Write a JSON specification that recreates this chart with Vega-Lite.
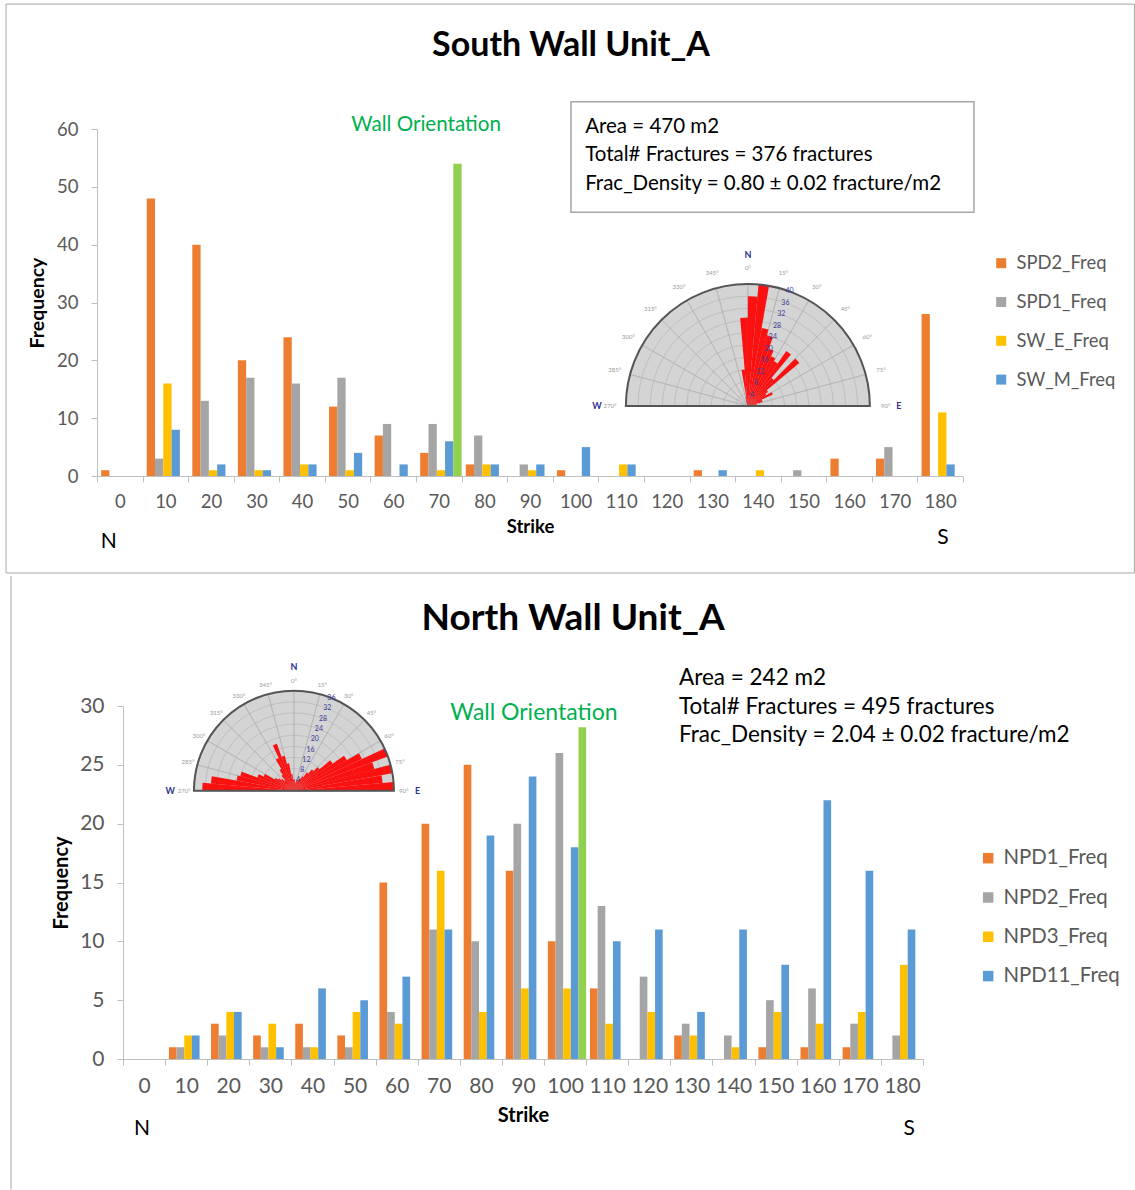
{
  "$schema": "https://vega.github.io/schema/vega-lite/v6.json",
  "background": "white",
  "padding": {"left": 5, "top": 3, "right": 0, "bottom": 0},
  "bounds": "flush",
  "spacing": 230,
  "config": {
    "font": "Lato",
    "view": {"stroke": null},
    "axis": {
      "grid": false,
      "domainColor": "#bfbfbf",
      "tickColor": "#bfbfbf",
      "labelColor": "#595959",
      "labelFont": "Lato",
      "titleFont": "Lato",
      "titleColor": "#000000",
      "titleFontWeight": "bold"
    },
    "legend": {"labelFont": "Lato", "labelColor": "#595959", "padding": 0},
    "text": {"font": "Lato"}
  },
  "datasets": {
    "south": [
      {"Strike": 0, "SPD2_Freq": 1, "SPD1_Freq": 0, "SW_E_Freq": 0, "SW_M_Freq": 0},
      {"Strike": 10, "SPD2_Freq": 48, "SPD1_Freq": 3, "SW_E_Freq": 16, "SW_M_Freq": 8},
      {"Strike": 20, "SPD2_Freq": 40, "SPD1_Freq": 13, "SW_E_Freq": 1, "SW_M_Freq": 2},
      {"Strike": 30, "SPD2_Freq": 20, "SPD1_Freq": 17, "SW_E_Freq": 1, "SW_M_Freq": 1},
      {"Strike": 40, "SPD2_Freq": 24, "SPD1_Freq": 16, "SW_E_Freq": 2, "SW_M_Freq": 2},
      {"Strike": 50, "SPD2_Freq": 12, "SPD1_Freq": 17, "SW_E_Freq": 1, "SW_M_Freq": 4},
      {"Strike": 60, "SPD2_Freq": 7, "SPD1_Freq": 9, "SW_E_Freq": 0, "SW_M_Freq": 2},
      {"Strike": 70, "SPD2_Freq": 4, "SPD1_Freq": 9, "SW_E_Freq": 1, "SW_M_Freq": 6, "Wall Orientation": 54},
      {"Strike": 80, "SPD2_Freq": 2, "SPD1_Freq": 7, "SW_E_Freq": 2, "SW_M_Freq": 2},
      {"Strike": 90, "SPD2_Freq": 0, "SPD1_Freq": 2, "SW_E_Freq": 1, "SW_M_Freq": 2},
      {"Strike": 100, "SPD2_Freq": 1, "SPD1_Freq": 0, "SW_E_Freq": 0, "SW_M_Freq": 5},
      {"Strike": 110, "SPD2_Freq": 0, "SPD1_Freq": 0, "SW_E_Freq": 2, "SW_M_Freq": 2},
      {"Strike": 120, "SPD2_Freq": 0, "SPD1_Freq": 0, "SW_E_Freq": 0, "SW_M_Freq": 0},
      {"Strike": 130, "SPD2_Freq": 1, "SPD1_Freq": 0, "SW_E_Freq": 0, "SW_M_Freq": 1},
      {"Strike": 140, "SPD2_Freq": 0, "SPD1_Freq": 0, "SW_E_Freq": 1, "SW_M_Freq": 0},
      {"Strike": 150, "SPD2_Freq": 0, "SPD1_Freq": 1, "SW_E_Freq": 0, "SW_M_Freq": 0},
      {"Strike": 160, "SPD2_Freq": 3, "SPD1_Freq": 0, "SW_E_Freq": 0, "SW_M_Freq": 0},
      {"Strike": 170, "SPD2_Freq": 3, "SPD1_Freq": 5, "SW_E_Freq": 0, "SW_M_Freq": 0},
      {"Strike": 180, "SPD2_Freq": 28, "SPD1_Freq": 0, "SW_E_Freq": 11, "SW_M_Freq": 2}
    ],
    "north": [
      {"Strike": 0, "NPD1_Freq": 0, "NPD2_Freq": 0, "NPD3_Freq": 0, "NPD11_Freq": 0},
      {"Strike": 10, "NPD1_Freq": 1, "NPD2_Freq": 1, "NPD3_Freq": 2, "NPD11_Freq": 2},
      {"Strike": 20, "NPD1_Freq": 3, "NPD2_Freq": 2, "NPD3_Freq": 4, "NPD11_Freq": 4},
      {"Strike": 30, "NPD1_Freq": 2, "NPD2_Freq": 1, "NPD3_Freq": 3, "NPD11_Freq": 1},
      {"Strike": 40, "NPD1_Freq": 3, "NPD2_Freq": 1, "NPD3_Freq": 1, "NPD11_Freq": 6},
      {"Strike": 50, "NPD1_Freq": 2, "NPD2_Freq": 1, "NPD3_Freq": 4, "NPD11_Freq": 5},
      {"Strike": 60, "NPD1_Freq": 15, "NPD2_Freq": 4, "NPD3_Freq": 3, "NPD11_Freq": 7},
      {"Strike": 70, "NPD1_Freq": 20, "NPD2_Freq": 11, "NPD3_Freq": 16, "NPD11_Freq": 11},
      {"Strike": 80, "NPD1_Freq": 25, "NPD2_Freq": 10, "NPD3_Freq": 4, "NPD11_Freq": 19},
      {"Strike": 90, "NPD1_Freq": 16, "NPD2_Freq": 20, "NPD3_Freq": 6, "NPD11_Freq": 24},
      {"Strike": 100, "NPD1_Freq": 10, "NPD2_Freq": 26, "NPD3_Freq": 6, "NPD11_Freq": 18, "Wall Orientation": 28.2},
      {"Strike": 110, "NPD1_Freq": 6, "NPD2_Freq": 13, "NPD3_Freq": 3, "NPD11_Freq": 10},
      {"Strike": 120, "NPD1_Freq": 0, "NPD2_Freq": 7, "NPD3_Freq": 4, "NPD11_Freq": 11},
      {"Strike": 130, "NPD1_Freq": 2, "NPD2_Freq": 3, "NPD3_Freq": 2, "NPD11_Freq": 4},
      {"Strike": 140, "NPD1_Freq": 0, "NPD2_Freq": 2, "NPD3_Freq": 1, "NPD11_Freq": 11},
      {"Strike": 150, "NPD1_Freq": 1, "NPD2_Freq": 5, "NPD3_Freq": 4, "NPD11_Freq": 8},
      {"Strike": 160, "NPD1_Freq": 1, "NPD2_Freq": 6, "NPD3_Freq": 3, "NPD11_Freq": 22},
      {"Strike": 170, "NPD1_Freq": 1, "NPD2_Freq": 3, "NPD3_Freq": 4, "NPD11_Freq": 16},
      {"Strike": 180, "NPD1_Freq": 0, "NPD2_Freq": 2, "NPD3_Freq": 8, "NPD11_Freq": 11}
    ],
    "south_rose": [
      {"from": -20, "to": -15, "count": 2},
      {"from": -15, "to": -10, "count": 3},
      {"from": -10, "to": -5, "count": 12},
      {"from": -5, "to": 0, "count": 29},
      {"from": 0, "to": 5, "count": 36},
      {"from": 5, "to": 10, "count": 40},
      {"from": 10, "to": 15, "count": 26},
      {"from": 15, "to": 20, "count": 24},
      {"from": 20, "to": 25, "count": 20},
      {"from": 25, "to": 30, "count": 18},
      {"from": 30, "to": 35, "count": 17},
      {"from": 35, "to": 40, "count": 22},
      {"from": 40, "to": 45, "count": 12},
      {"from": 45, "to": 50, "count": 22},
      {"from": 50, "to": 55, "count": 8},
      {"from": 55, "to": 60, "count": 7},
      {"from": 60, "to": 65, "count": 9},
      {"from": 65, "to": 70, "count": 5},
      {"from": 70, "to": 75, "count": 5},
      {"from": 75, "to": 80, "count": 3},
      {"from": 80, "to": 85, "count": 2},
      {"from": 85, "to": 90, "count": 1}
    ],
    "north_rose": [
      {"from": -90, "to": -85, "count": 33},
      {"from": -85, "to": -80, "count": 30},
      {"from": -80, "to": -75, "count": 21},
      {"from": -75, "to": -70, "count": 20},
      {"from": -70, "to": -65, "count": 14},
      {"from": -65, "to": -60, "count": 12},
      {"from": -60, "to": -55, "count": 8},
      {"from": -55, "to": -50, "count": 7},
      {"from": -50, "to": -45, "count": 6},
      {"from": -45, "to": -40, "count": 5},
      {"from": -40, "to": -35, "count": 7},
      {"from": -35, "to": -30, "count": 9},
      {"from": -30, "to": -25, "count": 13},
      {"from": -25, "to": -20, "count": 18},
      {"from": -20, "to": -15, "count": 13},
      {"from": -15, "to": -10, "count": 10},
      {"from": -10, "to": -5, "count": 6},
      {"from": -5, "to": 0, "count": 4},
      {"from": 0, "to": 5, "count": 4},
      {"from": 5, "to": 10, "count": 3},
      {"from": 10, "to": 15, "count": 3},
      {"from": 15, "to": 20, "count": 4},
      {"from": 20, "to": 25, "count": 4},
      {"from": 25, "to": 30, "count": 5},
      {"from": 30, "to": 35, "count": 6},
      {"from": 35, "to": 40, "count": 8},
      {"from": 40, "to": 45, "count": 10},
      {"from": 45, "to": 50, "count": 12},
      {"from": 50, "to": 55, "count": 17},
      {"from": 55, "to": 60, "count": 22},
      {"from": 60, "to": 65, "count": 27},
      {"from": 65, "to": 70, "count": 36},
      {"from": 70, "to": 75, "count": 30},
      {"from": 75, "to": 80, "count": 36},
      {"from": 80, "to": 85, "count": 32},
      {"from": 85, "to": 90, "count": 36}
    ],
    "spokes": [
      {"from": -90, "to": -75}, {"from": -75, "to": -60}, {"from": -60, "to": -45},
      {"from": -45, "to": -30}, {"from": -30, "to": -15}, {"from": -15, "to": 0},
      {"from": 0, "to": 15}, {"from": 15, "to": 30}, {"from": 30, "to": 45},
      {"from": 45, "to": 60}, {"from": 60, "to": 75}, {"from": 75, "to": 90}
    ],
    "rings_south": [
      {"r": 4}, {"r": 8}, {"r": 12}, {"r": 16}, {"r": 20},
      {"r": 24}, {"r": 28}, {"r": 32}, {"r": 36}, {"r": 40}
    ],
    "rings_north": [
      {"r": 4}, {"r": 8}, {"r": 12}, {"r": 16}, {"r": 20},
      {"r": 24}, {"r": 28}, {"r": 32}, {"r": 36}
    ],
    "degrees": [
      {"ang": -90, "label": "270°"}, {"ang": -75, "label": "285°"}, {"ang": -60, "label": "300°"},
      {"ang": -45, "label": "315°"}, {"ang": -30, "label": "330°"}, {"ang": -15, "label": "345°"},
      {"ang": 0, "label": "0°"}, {"ang": 15, "label": "15°"}, {"ang": 30, "label": "30°"},
      {"ang": 45, "label": "45°"}, {"ang": 60, "label": "60°"}, {"ang": 75, "label": "75°"},
      {"ang": 90, "label": "90°"}
    ],
    "compass": [
      {"dir": "W", "ang": -90}, {"dir": "N", "ang": 0}, {"dir": "E", "ang": 90}
    ]
  },
  "vconcat": [
    {
      "width": 866,
      "height": 347,
      "layer": [
        {
          "data": {"name": "south"},
          "transform": [
            {"fold": ["SPD2_Freq", "SPD1_Freq", "SW_E_Freq", "SW_M_Freq", "Wall Orientation"], "as": ["Series", "Freq"]}
          ],
          "mark": {"type": "bar"},
          "encoding": {
            "x": {
              "field": "Strike", "type": "ordinal",
              "scale": {"domain": [0, 10, 20, 30, 40, 50, 60, 70, 80, 90, 100, 110, 120, 130, 140, 150, 160, 170, 180], "paddingInner": 0, "paddingOuter": 0},
              "axis": {"title": "Strike", "labelAngle": 0, "labelFontSize": 18.5, "labelPadding": 10, "tickSize": 6, "tickBand": "extent", "titleFontSize": 18.5, "titlePadding": 7}
            },
            "xOffset": {
              "field": "Series", "type": "nominal",
              "scale": {"domain": ["SPD2_Freq", "SPD1_Freq", "SW_E_Freq", "SW_M_Freq", "Wall Orientation"], "paddingInner": 0, "paddingOuter": 0.25, "align": 1}
            },
            "y": {
              "field": "Freq", "type": "quantitative",
              "scale": {"domain": [0, 60]},
              "axis": {"title": "Frequency", "values": [0, 10, 20, 30, 40, 50, 60], "labelFontSize": 18.5, "labelPadding": 13, "tickSize": 6, "titleFontSize": 19.5, "titlePadding": 9}
            },
            "color": {
              "field": "Series", "type": "nominal",
              "scale": {"domain": ["SPD2_Freq", "SPD1_Freq", "SW_E_Freq", "SW_M_Freq", "Wall Orientation"], "range": ["#ed7d31", "#a5a5a5", "#ffc000", "#5b9bd5", "#92d050"]},
              "legend": {"values": ["SPD2_Freq", "SPD1_Freq", "SW_E_Freq", "SW_M_Freq"], "orient": "none", "legendX": 895, "legendY": 125, "title": null, "symbolType": "square", "symbolSize": 100, "labelFontSize": 18.4, "rowPadding": 19.8, "labelOffset": 6}
            }
          }
        },
        {
          "data": {"values": [{}]},
          "layer": [
            {
              "mark": {"type": "rect", "filled": false, "stroke": "#a6a6a6", "strokeWidth": 1},
              "encoding": {
                "x": {"datum": -24.96, "type": "quantitative", "scale": {"domain": [-5, 185]}, "axis": null},
                "x2": {"datum": 222.6},
                "y": {"datum": 81.6, "type": "quantitative", "axis": null},
                "y2": {"datum": -16.77}
              }
            },
            {
              "mark": {"type": "text", "fontSize": 34, "fontWeight": "bold", "color": "#000000", "align": "center", "baseline": "alphabetic"},
              "encoding": {
                "x": {"datum": 99.0, "type": "quantitative", "scale": {"domain": [-5, 185]}, "axis": null},
                "y": {"datum": 72.6, "type": "quantitative", "axis": null},
                "text": {"value": "South Wall Unit_A"}
              }
            },
            {
              "mark": {"type": "text", "fontSize": 20.6, "color": "#00b050", "align": "center", "baseline": "alphabetic"},
              "encoding": {
                "x": {"datum": 67.2, "type": "quantitative", "scale": {"domain": [-5, 185]}, "axis": null},
                "y": {"datum": 59.6, "type": "quantitative", "axis": null},
                "text": {"value": "Wall Orientation"}
              }
            },
            {
              "mark": {"type": "rect", "fill": "white", "stroke": "#a6a6a6", "strokeWidth": 1.5},
              "encoding": {
                "x": {"datum": 99.0, "type": "quantitative", "scale": {"domain": [-5, 185]}, "axis": null},
                "x2": {"datum": 187.4},
                "y": {"datum": 64.7, "type": "quantitative", "axis": null},
                "y2": {"datum": 45.6}
              }
            },
            {
              "mark": {"type": "text", "fontSize": 20.5, "color": "#000000", "align": "left", "baseline": "alphabetic"},
              "encoding": {
                "x": {"datum": 102.1, "type": "quantitative", "scale": {"domain": [-5, 185]}, "axis": null},
                "y": {"datum": 59.35, "type": "quantitative", "axis": null},
                "text": {"value": "Area = 470 m2"}
              }
            },
            {
              "mark": {"type": "text", "fontSize": 20.5, "color": "#000000", "align": "left", "baseline": "alphabetic"},
              "encoding": {
                "x": {"datum": 102.1, "type": "quantitative", "scale": {"domain": [-5, 185]}, "axis": null},
                "y": {"datum": 54.42, "type": "quantitative", "axis": null},
                "text": {"value": "Total# Fractures = 376 fractures"}
              }
            },
            {
              "mark": {"type": "text", "fontSize": 20.5, "color": "#000000", "align": "left", "baseline": "alphabetic"},
              "encoding": {
                "x": {"datum": 102.1, "type": "quantitative", "scale": {"domain": [-5, 185]}, "axis": null},
                "y": {"datum": 49.49, "type": "quantitative", "axis": null},
                "text": {"value": "Frac_Density = 0.80 ± 0.02 fracture/m2"}
              }
            },
            {
              "mark": {"type": "text", "fontSize": 21, "color": "#000000", "align": "center", "baseline": "alphabetic"},
              "encoding": {
                "x": {"datum": -2.4, "type": "quantitative", "scale": {"domain": [-5, 185]}, "axis": null},
                "y": {"datum": -12.5, "type": "quantitative", "axis": null},
                "text": {"value": "N"}
              }
            },
            {
              "mark": {"type": "text", "fontSize": 21, "color": "#000000", "align": "center", "baseline": "alphabetic"},
              "encoding": {
                "x": {"datum": 180.6, "type": "quantitative", "scale": {"domain": [-5, 185]}, "axis": null},
                "y": {"datum": -11.7, "type": "quantitative", "axis": null},
                "text": {"value": "S"}
              }
            },
            {
              "encoding": {
                "x": {"datum": 137.8, "type": "quantitative", "scale": {"domain": [-5, 185]}, "axis": null},
                "y": {"datum": 12.1, "type": "quantitative", "axis": null}
              },
              "layer": [
                {
                  "mark": {"type": "arc", "fill": "#d4d4d4"},
                  "encoding": {
                    "theta": {"datum": -90, "type": "quantitative", "scale": {"domain": [-90, 90], "range": [-1.5707963, 1.5707963]}, "stack": null},
                    "theta2": {"datum": 90},
                    "radius": {"datum": 40, "type": "quantitative", "scale": {"type": "linear", "domain": [0, 40], "range": [0, 122]}, "stack": null}
                  }
                },
                {
                  "data": {"name": "spokes"},
                  "mark": {"type": "arc", "filled": false, "stroke": "#b0b0b0", "strokeWidth": 0.6},
                  "encoding": {
                    "theta": {"field": "from", "type": "quantitative", "scale": {"domain": [-90, 90], "range": [-1.5707963, 1.5707963]}, "stack": null},
                    "theta2": {"field": "to"},
                    "radius": {"datum": 40, "type": "quantitative", "scale": {"type": "linear", "domain": [0, 40], "range": [0, 122]}, "stack": null}
                  }
                },
                {
                  "data": {"name": "rings_south"},
                  "mark": {"type": "arc", "filled": false, "stroke": "#b0b0b0", "strokeWidth": 0.6},
                  "encoding": {
                    "theta": {"datum": -90, "type": "quantitative", "scale": {"domain": [-90, 90], "range": [-1.5707963, 1.5707963]}, "stack": null},
                    "theta2": {"datum": 90},
                    "radius": {"field": "r", "type": "quantitative", "scale": {"type": "linear", "domain": [0, 40], "range": [0, 122]}, "stack": null}
                  }
                },
                {
                  "data": {"name": "south_rose"},
                  "mark": {"type": "arc", "fill": "#ff0000", "opacity": 0.92},
                  "encoding": {
                    "theta": {"field": "from", "type": "quantitative", "scale": {"domain": [-90, 90], "range": [-1.5707963, 1.5707963]}, "stack": null},
                    "theta2": {"field": "to"},
                    "radius": {"field": "count", "type": "quantitative", "scale": {"type": "linear", "domain": [0, 40], "range": [0, 122]}, "stack": null}
                  }
                },
                {
                  "mark": {"type": "arc", "filled": false, "stroke": "#555555", "strokeWidth": 2},
                  "encoding": {
                    "theta": {"datum": -90, "type": "quantitative", "scale": {"domain": [-90, 90], "range": [-1.5707963, 1.5707963]}, "stack": null},
                    "theta2": {"datum": 90},
                    "radius": {"datum": 40, "type": "quantitative", "scale": {"type": "linear", "domain": [0, 40], "range": [0, 122]}, "stack": null}
                  }
                },
                {
                  "data": {"name": "degrees"},
                  "mark": {"type": "text", "fontSize": 6, "color": "#9a9a9a"},
                  "encoding": {
                    "theta": {"field": "ang", "type": "quantitative", "scale": {"domain": [-90, 90], "range": [-1.5707963, 1.5707963]}, "stack": null},
                    "radius": {"datum": 45.2, "type": "quantitative", "scale": {"type": "linear", "domain": [0, 40], "range": [0, 122]}, "stack": null},
                    "text": {"field": "label"}
                  }
                },
                {
                  "data": {"name": "rings_south"},
                  "mark": {"type": "text", "fontSize": 7, "color": "#3b3b98"},
                  "encoding": {
                    "theta": {"datum": 20, "type": "quantitative", "scale": {"domain": [-90, 90], "range": [-1.5707963, 1.5707963]}, "stack": null},
                    "radius": {"field": "r", "type": "quantitative", "scale": {"type": "linear", "domain": [0, 40], "range": [0, 122]}, "stack": null},
                    "text": {"field": "r"}
                  }
                },
                {
                  "data": {"name": "compass"},
                  "mark": {"type": "text", "fontSize": 9, "fontWeight": "bold", "color": "#2e3192"},
                  "encoding": {
                    "theta": {"field": "ang", "type": "quantitative", "scale": {"domain": [-90, 90], "range": [-1.5707963, 1.5707963]}, "stack": null},
                    "radius": {"datum": 49.5, "type": "quantitative", "scale": {"type": "linear", "domain": [0, 40], "range": [0, 122]}, "stack": null},
                    "text": {"field": "dir"}
                  }
                }
              ]
            }
          ]
        }
      ],
      "resolve": {"scale": {"x": "independent"}, "axis": {"x": "independent", "y": "independent"}}
    },
    {
      "width": 826,
      "height": 353,
      "layer": [
        {
          "data": {"name": "north"},
          "transform": [
            {"fold": ["NPD1_Freq", "NPD2_Freq", "NPD3_Freq", "NPD11_Freq", "Wall Orientation"], "as": ["Series", "Freq"]}
          ],
          "mark": {"type": "bar"},
          "encoding": {
            "x": {
              "field": "Strike", "type": "ordinal",
              "scale": {"domain": [0, 10, 20, 30, 40, 50, 60, 70, 80, 90, 100, 110, 120, 130, 140, 150, 160, 170, 180], "range": [26, 826], "paddingInner": 0, "paddingOuter": 0},
              "axis": {"title": "Strike", "labelAngle": 0, "labelFontSize": 21, "labelPadding": 10, "tickSize": 6, "tickBand": "extent", "titleFontSize": 20, "titlePadding": 9}
            },
            "xOffset": {
              "field": "Series", "type": "nominal",
              "scale": {"domain": ["NPD1_Freq", "NPD2_Freq", "NPD3_Freq", "NPD11_Freq", "Wall Orientation"], "paddingInner": 0, "paddingOuter": 0.25, "align": 1}
            },
            "y": {
              "field": "Freq", "type": "quantitative",
              "scale": {"domain": [0, 30]},
              "axis": {"title": "Frequency", "offset": -26, "values": [0, 5, 10, 15, 20, 25, 30], "labelFontSize": 21, "labelPadding": 13, "tickSize": 6, "titleFontSize": 20, "titlePadding": 8}
            },
            "color": {
              "field": "Series", "type": "nominal",
              "scale": {"domain": ["NPD1_Freq", "NPD2_Freq", "NPD3_Freq", "NPD11_Freq", "Wall Orientation"], "range": ["#ed7d31", "#a5a5a5", "#ffc000", "#5b9bd5", "#92d050"]},
              "legend": {"values": ["NPD1_Freq", "NPD2_Freq", "NPD3_Freq", "NPD11_Freq"], "orient": "none", "legendX": 881, "legendY": 142, "title": null, "symbolType": "square", "symbolSize": 110, "labelFontSize": 20.4, "rowPadding": 18.3, "labelOffset": 5}
            }
          }
        },
        {
          "data": {"values": [{}]},
          "layer": [
            {
              "mark": {"type": "rule", "color": "#a6a6a6", "strokeWidth": 1},
              "encoding": {
                "x": {"datum": -31.6, "type": "quantitative", "scale": {"domain": [-5, 185], "range": [26, 826]}, "axis": null},
                "y": {"datum": 41.05, "type": "quantitative", "axis": null},
                "y2": {"datum": -11.1}
              }
            },
            {
              "mark": {"type": "text", "fontSize": 37, "fontWeight": "bold", "color": "#000000", "align": "center", "baseline": "alphabetic"},
              "encoding": {
                "x": {"datum": 101.9, "type": "quantitative", "scale": {"domain": [-5, 185], "range": [26, 826]}, "axis": null},
                "y": {"datum": 36.5, "type": "quantitative", "axis": null},
                "text": {"value": "North Wall Unit_A"}
              }
            },
            {
              "mark": {"type": "text", "fontSize": 23, "color": "#00b050", "align": "center", "baseline": "alphabetic"},
              "encoding": {
                "x": {"datum": 92.6, "type": "quantitative", "scale": {"domain": [-5, 185], "range": [26, 826]}, "axis": null},
                "y": {"datum": 28.8, "type": "quantitative", "axis": null},
                "text": {"value": "Wall Orientation"}
              }
            },
            {
              "mark": {"type": "text", "fontSize": 22.5, "color": "#000000", "align": "left", "baseline": "alphabetic"},
              "encoding": {
                "x": {"datum": 127.05, "type": "quantitative", "scale": {"domain": [-5, 185], "range": [26, 826]}, "axis": null},
                "y": {"datum": 31.75, "type": "quantitative", "axis": null},
                "text": {"value": "Area = 242 m2"}
              }
            },
            {
              "mark": {"type": "text", "fontSize": 22.5, "color": "#000000", "align": "left", "baseline": "alphabetic"},
              "encoding": {
                "x": {"datum": 127.05, "type": "quantitative", "scale": {"domain": [-5, 185], "range": [26, 826]}, "axis": null},
                "y": {"datum": 29.3, "type": "quantitative", "axis": null},
                "text": {"value": "Total# Fractures = 495 fractures"}
              }
            },
            {
              "mark": {"type": "text", "fontSize": 22.5, "color": "#000000", "align": "left", "baseline": "alphabetic"},
              "encoding": {
                "x": {"datum": 127.05, "type": "quantitative", "scale": {"domain": [-5, 185], "range": [26, 826]}, "axis": null},
                "y": {"datum": 26.92, "type": "quantitative", "axis": null},
                "text": {"value": "Frac_Density = 2.04 ± 0.02 fracture/m2"}
              }
            },
            {
              "mark": {"type": "text", "fontSize": 21, "color": "#000000", "align": "center", "baseline": "alphabetic"},
              "encoding": {
                "x": {"datum": -0.5, "type": "quantitative", "scale": {"domain": [-5, 185], "range": [26, 826]}, "axis": null},
                "y": {"datum": -6.45, "type": "quantitative", "axis": null},
                "text": {"value": "N"}
              }
            },
            {
              "mark": {"type": "text", "fontSize": 21, "color": "#000000", "align": "center", "baseline": "alphabetic"},
              "encoding": {
                "x": {"datum": 181.7, "type": "quantitative", "scale": {"domain": [-5, 185], "range": [26, 826]}, "axis": null},
                "y": {"datum": -6.45, "type": "quantitative", "axis": null},
                "text": {"value": "S"}
              }
            },
            {
              "encoding": {
                "x": {"datum": 35.6, "type": "quantitative", "scale": {"domain": [-5, 185], "range": [26, 826]}, "axis": null},
                "y": {"datum": 22.8, "type": "quantitative", "axis": null}
              },
              "layer": [
                {
                  "mark": {"type": "arc", "fill": "#d4d4d4"},
                  "encoding": {
                    "theta": {"datum": -90, "type": "quantitative", "scale": {"domain": [-90, 90], "range": [-1.5707963, 1.5707963]}, "stack": null},
                    "theta2": {"datum": 90},
                    "radius": {"datum": 36, "type": "quantitative", "scale": {"type": "linear", "domain": [0, 36], "range": [0, 100]}, "stack": null}
                  }
                },
                {
                  "data": {"name": "spokes"},
                  "mark": {"type": "arc", "filled": false, "stroke": "#b0b0b0", "strokeWidth": 0.6},
                  "encoding": {
                    "theta": {"field": "from", "type": "quantitative", "scale": {"domain": [-90, 90], "range": [-1.5707963, 1.5707963]}, "stack": null},
                    "theta2": {"field": "to"},
                    "radius": {"datum": 36, "type": "quantitative", "scale": {"type": "linear", "domain": [0, 36], "range": [0, 100]}, "stack": null}
                  }
                },
                {
                  "data": {"name": "rings_north"},
                  "mark": {"type": "arc", "filled": false, "stroke": "#b0b0b0", "strokeWidth": 0.6},
                  "encoding": {
                    "theta": {"datum": -90, "type": "quantitative", "scale": {"domain": [-90, 90], "range": [-1.5707963, 1.5707963]}, "stack": null},
                    "theta2": {"datum": 90},
                    "radius": {"field": "r", "type": "quantitative", "scale": {"type": "linear", "domain": [0, 36], "range": [0, 100]}, "stack": null}
                  }
                },
                {
                  "data": {"name": "north_rose"},
                  "mark": {"type": "arc", "fill": "#ff0000", "opacity": 0.92},
                  "encoding": {
                    "theta": {"field": "from", "type": "quantitative", "scale": {"domain": [-90, 90], "range": [-1.5707963, 1.5707963]}, "stack": null},
                    "theta2": {"field": "to"},
                    "radius": {"field": "count", "type": "quantitative", "scale": {"type": "linear", "domain": [0, 36], "range": [0, 100]}, "stack": null}
                  }
                },
                {
                  "mark": {"type": "arc", "filled": false, "stroke": "#555555", "strokeWidth": 2},
                  "encoding": {
                    "theta": {"datum": -90, "type": "quantitative", "scale": {"domain": [-90, 90], "range": [-1.5707963, 1.5707963]}, "stack": null},
                    "theta2": {"datum": 90},
                    "radius": {"datum": 36, "type": "quantitative", "scale": {"type": "linear", "domain": [0, 36], "range": [0, 100]}, "stack": null}
                  }
                },
                {
                  "data": {"name": "degrees"},
                  "mark": {"type": "text", "fontSize": 6, "color": "#9a9a9a"},
                  "encoding": {
                    "theta": {"field": "ang", "type": "quantitative", "scale": {"domain": [-90, 90], "range": [-1.5707963, 1.5707963]}, "stack": null},
                    "radius": {"datum": 39.5, "type": "quantitative", "scale": {"type": "linear", "domain": [0, 36], "range": [0, 100]}, "stack": null},
                    "text": {"field": "label"}
                  }
                },
                {
                  "data": {"name": "rings_north"},
                  "mark": {"type": "text", "fontSize": 7, "color": "#3b3b98"},
                  "encoding": {
                    "theta": {"datum": 22, "type": "quantitative", "scale": {"domain": [-90, 90], "range": [-1.5707963, 1.5707963]}, "stack": null},
                    "radius": {"field": "r", "type": "quantitative", "scale": {"type": "linear", "domain": [0, 36], "range": [0, 100]}, "stack": null},
                    "text": {"field": "r"}
                  }
                },
                {
                  "data": {"name": "compass"},
                  "mark": {"type": "text", "fontSize": 9, "fontWeight": "bold", "color": "#2e3192"},
                  "encoding": {
                    "theta": {"field": "ang", "type": "quantitative", "scale": {"domain": [-90, 90], "range": [-1.5707963, 1.5707963]}, "stack": null},
                    "radius": {"datum": 44.5, "type": "quantitative", "scale": {"type": "linear", "domain": [0, 36], "range": [0, 100]}, "stack": null},
                    "text": {"field": "dir"}
                  }
                }
              ]
            }
          ]
        }
      ],
      "resolve": {"scale": {"x": "independent"}, "axis": {"x": "independent", "y": "independent"}}
    }
  ],
  "resolve": {
    "scale": {"x": "independent", "y": "independent", "color": "independent", "xOffset": "independent", "theta": "independent", "radius": "independent"},
    "axis": {"x": "independent", "y": "independent"},
    "legend": {"color": "independent"}
  }
}
